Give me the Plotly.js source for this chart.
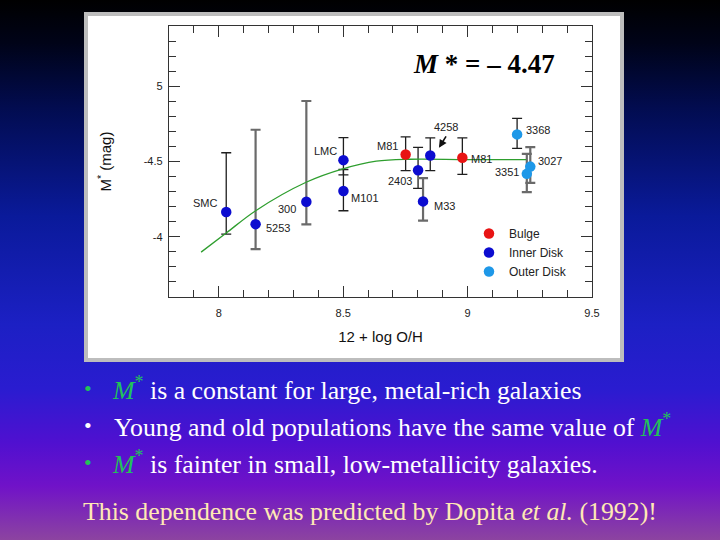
<!DOCTYPE html>
<html><head><meta charset="utf-8">
<script src="https://cdn.plot.ly/plotly-3.0.1.min.js"></script>
<style>
html,body{margin:0;padding:0;width:720px;height:540px;overflow:hidden;
background:linear-gradient(to bottom,#000000 0%,#000318 8%,#020c50 20%,#0a1a9a 40%,#1c20c4 60%,#2a1cd0 72%,#5010d0 82%,#7012c8 90%,#8c44a0 100%);}
#chart{width:720px;height:540px;}
</style></head><body><div id="chart"></div>
<script>
// ---- data ----
const galaxies = ['SMC','5253','300','LMC','M101','M81','2403','4258','M33','M81','3368','3027','3351'];
const logOH    = [8.030, 8.148, 8.352, 8.501, 8.501, 8.751, 8.801, 8.850, 8.821, 8.979, 9.199, 9.252, 9.238];
const mStar    = [-4.165,-4.084,-4.233,-4.509,-4.304,-4.547,-4.442,-4.540,-4.235,-4.525,-4.680,-4.466,-4.418];
const errBright= [0.393, 0.627, 0.669, 0.149, 0.143, 0.117, 0.152, 0.117, 0.155, 0.132, 0.107, 0.130, 0.132];
const errFaint = [0.147, 0.166, 0.151, 0.098, 0.131, 0.107, 0.120, 0.100, 0.128, 0.110, 0.093, 0.108, 0.122];
const region   = ['Inner Disk','Inner Disk','Inner Disk','Inner Disk','Inner Disk','Bulge','Inner Disk','Inner Disk','Inner Disk','Bulge','Outer Disk','Outer Disk','Outer Disk'];
const regions  = ['Bulge','Inner Disk','Outer Disk'];
const fitOH    = [7.929, 8.030, 8.150, 8.351, 8.499, 8.633, 8.767, 9.000, 9.235];
const fitM     = [-3.898,-4.025,-4.175,-4.362,-4.451,-4.502,-4.515,-4.513,-4.513];
const xTickVals = [8, 8.5, 9, 9.5];
const xTickText = ['8', '8.5', '9', '9.5'];
const yTickVals = [-5, -4.5, -4];
const yTickText = ['5', '-4.5', '-4'];
const xMinor = [7.8,7.9,8.0,8.1,8.2,8.3,8.4,8.5,8.6,8.7,8.8,8.9,9.0,9.1,9.2,9.3,9.4,9.5];
const yMinor = [-5.4,-5.3,-5.2,-5.1,-5.0,-4.9,-4.8,-4.7,-4.6,-4.5,-4.4,-4.3,-4.2,-4.1,-4.0,-3.9,-3.8,-3.7,-3.6];

// ---- styles / layout helpers ----
const regionColor = {'Bulge':'#e81414','Inner Disk':'#0c0cd0','Outer Disk':'#1e98e8'};
const barStyle = ['k','g','g','k','k','k','k','k','g','k','k','g','g'];
const labelShift = [[-21,9],[22,-4],[-19,-7],[-18,9],[22,-7],[-18,8],[-18,-11],[16,28],[21,-5],[19,-1],[21,4],[20,6],[-20,2]];
const L=169, R=128, T=26, B=243, W=720, H=540;
const pw=W-L-R, ph=H-T-B;
const px2p = px => (px-L)/pw;
const py2p = py => (H-B-py)/ph;
const sans = 'Liberation Sans, Arial, sans-serif';
const serif = 'Liberation Serif, Times New Roman, serif';

function pick(arr, test){ return arr.filter((_,i)=>test(i)); }

const traces = [];
[['k','#1e1e1e',1.3],['g','#6a6a6a',2.2]].forEach(([s,c,th])=>{
  const f = i => barStyle[i]===s;
  traces.push({type:'scatter',mode:'markers',x:pick(logOH,f),y:pick(mStar,f),
    marker:{size:1,color:'rgba(0,0,0,0)'},showlegend:false,hoverinfo:'skip',
    error_y:{type:'data',symmetric:false,array:pick(errFaint,f),arrayminus:pick(errBright,f),
      color:c,thickness:th,width:5}});
});
traces.push({type:'scatter',mode:'lines',x:fitOH,y:fitM,line:{color:'#2e9e2e',width:1.3,shape:'spline'},
  showlegend:false,hoverinfo:'skip'});
regions.forEach(r=>{
  const f = i => region[i]===r;
  traces.push({type:'scatter',mode:'markers',name:r,x:pick(logOH,f),y:pick(mStar,f),
    marker:{size:10.5,color:regionColor[r]}});
});

const annotations = galaxies.map((g,i)=>({x:logOH[i],y:mStar[i],xref:'x',yref:'y',text:g,showarrow:false,
  xanchor:'center',yanchor:'middle',
  xshift:labelShift[i][0],yshift:labelShift[i][1],font:{family:sans,size:11,color:'#222'}}));
// arrow pointing at 4258
annotations.push({x:8.885,y:-4.591,xref:'x',yref:'y',text:'',showarrow:true,ax:8,ay:-13,
  arrowhead:2,arrowsize:1,arrowwidth:1.6,arrowcolor:'#111',standoff:0});
// M* value
annotations.push({x:px2p(484),y:py2p(64),xref:'paper',yref:'paper',showarrow:false,xanchor:'center',yanchor:'middle',
  text:'<b><i>M</i> * = – 4.47</b>',font:{family:serif,size:27,color:'#000'}});

const green = '#22c25a';
const lines = [
  {bx:88, by:388, bc:green, tx:110, ty:388, color:'#ffffff',
   t:'<span style="color:'+green+'"><i>M</i><sup>*</sup></span> is a constant for large, metal-rich galaxies'},
  {bx:88, by:425, bc:'#ffffff', tx:112, ty:425, color:'#ffffff',
   t:'Young and old populations have the same value of <span style="color:'+green+'"><i>M</i><sup>*</sup></span>'},
  {bx:88, by:462, bc:green, tx:110, ty:462, color:'#ffffff',
   t:'<span style="color:'+green+'"><i>M</i><sup>*</sup></span> is fainter in small, low-metallicity galaxies.'},
];
lines.forEach(l=>{
  annotations.push({x:px2p(l.bx),y:py2p(l.by),xref:'paper',yref:'paper',showarrow:false,xanchor:'center',yanchor:'middle',
    text:'•',font:{family:serif,size:22,color:l.bc}});
  annotations.push({x:px2p(l.tx),y:py2p(l.ty),xref:'paper',yref:'paper',showarrow:false,xanchor:'left',yanchor:'middle',
    text:l.t,font:{family:serif,size:25.8,color:l.color}});
});
annotations.push({x:px2p(81),y:py2p(511),xref:'paper',yref:'paper',showarrow:false,xanchor:'left',yanchor:'middle',
  text:'This dependence was predicted by Dopita <i>et al.</i> (1992)!',font:{family:serif,size:25.8,color:'#ffe9b4'}});

const axisCommon = {showline:true,linecolor:'#333',linewidth:1.2,mirror:'allticks',ticks:'inside',ticklen:11,
  tickwidth:1,tickcolor:'#333',showgrid:false,zeroline:false,tickfont:{family:sans,size:11,color:'#222'},
  tickmode:'array'};

const layout = {
  width:W,height:H,margin:{l:L,r:R,t:T,b:B,pad:0},
  paper_bgcolor:'rgba(0,0,0,0)',plot_bgcolor:'#ffffff',
  xaxis:Object.assign({},axisCommon,{range:[7.8,9.5],tickvals:xTickVals,ticktext:xTickText,ticklabelstandoff:6,
    minor:{tickmode:'array',tickvals:xMinor,ticks:'inside',ticklen:7,tickcolor:'#333'},
    title:{text:'12 + log O/H',font:{family:sans,size:15,color:'#111'},standoff:13}}),
  yaxis:Object.assign({},axisCommon,{range:[-3.6,-5.4],tickvals:yTickVals,ticktext:yTickText,ticklabelstandoff:3,
    minor:{tickmode:'array',tickvals:yMinor,ticks:'inside',ticklen:7,tickcolor:'#333'},
    title:{text:'M<sup>*</sup> (mag)',font:{family:sans,size:15,color:'#111'},standoff:28}}),
  legend:{x:px2p(469),y:py2p(219),xanchor:'left',yanchor:'top',bgcolor:'rgba(0,0,0,0)',
    font:{family:sans,size:12,color:'#222'},tracegroupgap:0},
  shapes:[{type:'rect',xref:'paper',yref:'paper',x0:px2p(86),x1:px2p(622),y0:py2p(360),y1:py2p(14),
    line:{color:'#bdbdbd',width:4},fillcolor:'#ffffff',layer:'below'}],
  annotations:annotations,
  showlegend:true
};
Plotly.newPlot('chart',traces,layout,{displayModeBar:false,staticPlot:true});
</script></body></html>
